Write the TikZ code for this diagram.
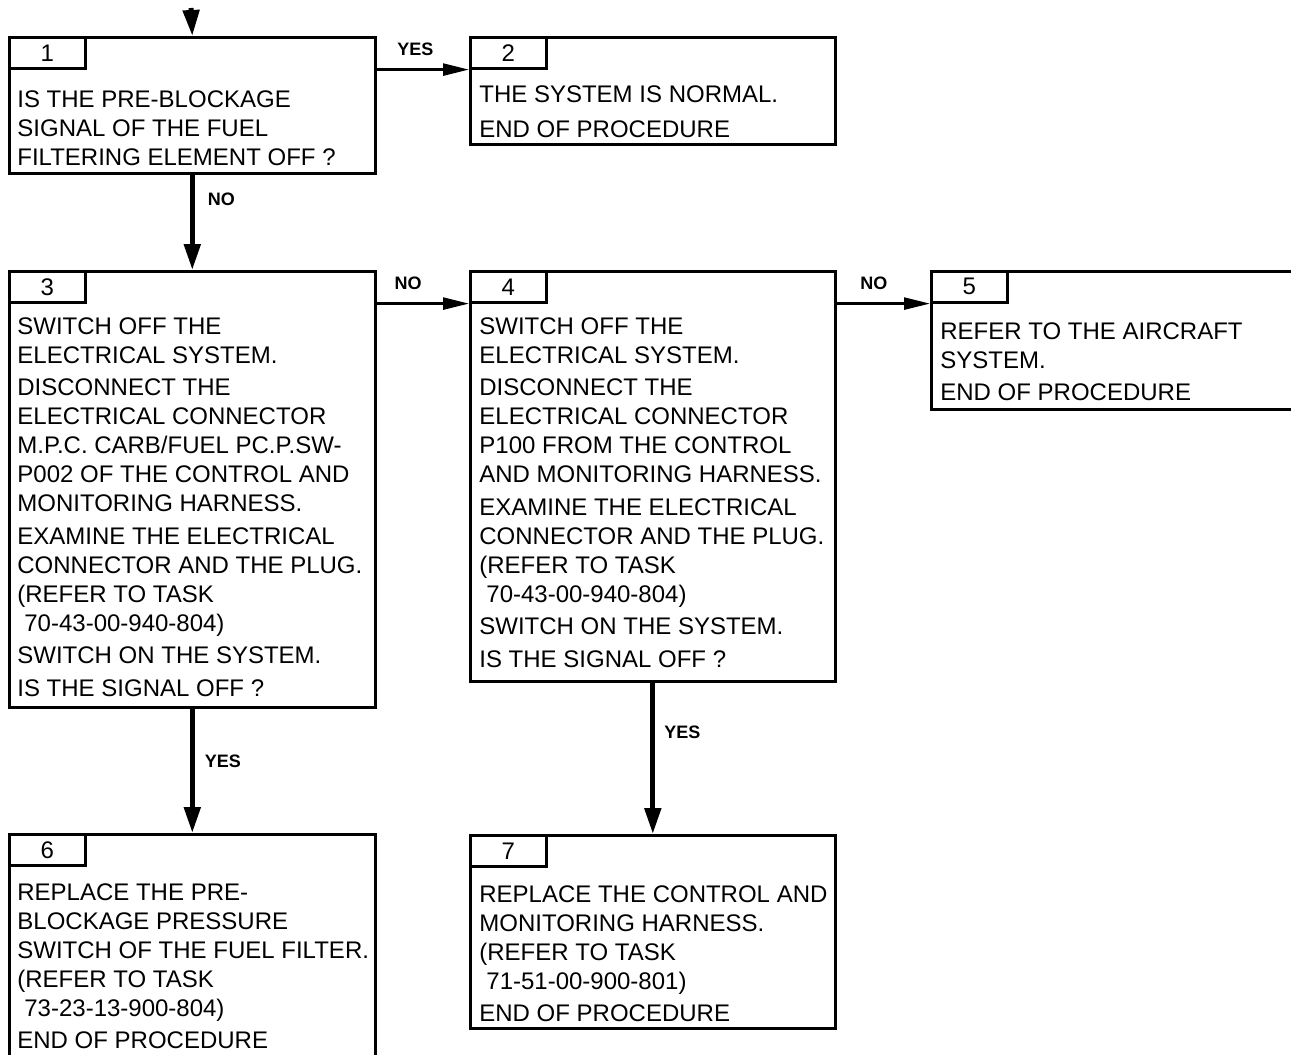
\documentclass[tikz,border=0pt]{standalone}
\usepackage{fontspec}
\setmainfont{Liberation Sans}
\usetikzlibrary{arrows.meta,positioning}

\begin{document}
\begin{tikzpicture}[x=0.5pt,y=-0.5pt]
	\tikzset{
		stepbox/.style={draw,line width=1.3pt,rectangle,anchor=north west,inner sep=0pt},
		numtab/.style={draw,line width=1.3pt,rectangle,anchor=north west,inner sep=0pt,
			minimum width=38pt,minimum height=15.5pt,font=\fontsize{12pt}{14.5pt}\selectfont},
		steptext/.style={anchor=north west,inner sep=0pt,align=left,font=\fontsize{12pt}{14.5pt}\selectfont},
		lbl/.style={inner sep=0pt,font=\bfseries\fontsize{9pt}{10pt}\selectfont},
		down/.style={line width=2.5pt,-{Triangle[length=13pt,width=8pt]}},
		across/.style={line width=1.3pt,-{Triangle[length=13pt,width=6pt]}}
	}
	\useasboundingbox (0,0) rectangle (1291,1055);
	\clip (0,0) rectangle (1291,1055);

	%% step boxes
	\node[stepbox,minimum width=183pt,minimum height=68pt] (b1) at (8,36) {};
	\node[stepbox,minimum width=182.5pt,minimum height=53.5pt] (b2) at (469,36) {};
	\node[stepbox,minimum width=183pt,minimum height=218pt] (b3) at (8,270) {};
	\node[stepbox,minimum width=182.5pt,minimum height=205pt] (b4) at (469,270) {};
	\node[stepbox,minimum width=200pt,minimum height=69pt] (b5) at (930,270) {};
	\node[stepbox,minimum width=183pt,minimum height=130pt] (b6) at (8,833) {};
	\node[stepbox,minimum width=182.5pt,minimum height=96.5pt] (b7) at (469,834) {};

	%% number tabs
	\node[numtab] (t1) at (b1.north west) {1};
	\node[numtab] (t2) at (b2.north west) {2};
	\node[numtab] (t3) at (b3.north west) {3};
	\node[numtab] (t4) at (b4.north west) {4};
	\node[numtab] (t5) at (b5.north west) {5};
	\node[numtab] (t6) at (b6.north west) {6};
	\node[numtab] (t7) at (b7.north west) {7};

	%% texts
	\node[steptext] (x1) at (17,90) {IS THE PRE-BLOCKAGE\\
		SIGNAL OF THE FUEL\\
		FILTERING ELEMENT OFF ?};
	\node[steptext] (x2) at (479,85) {THE SYSTEM IS NORMAL.\\[3pt]
		END OF PROCEDURE};
	\node[steptext] (x3) at (17,317) {SWITCH OFF THE\\
		ELECTRICAL SYSTEM.\\[1.75pt]
		DISCONNECT THE\\
		ELECTRICAL CONNECTOR\\
		M.P.C. CARB/FUEL PC.P.SW-\\
		P002 OF THE CONTROL AND\\
		MONITORING HARNESS.\\[1.75pt]
		EXAMINE THE ELECTRICAL\\
		CONNECTOR AND THE PLUG.\\
		(REFER TO TASK\\
		\hspace*{3.5pt}70-43-00-940-804)\\[1.75pt]
		SWITCH ON THE SYSTEM.\\[1.75pt]
		IS THE SIGNAL OFF ?};
	\node[steptext] (x4) at (479,317) {SWITCH OFF THE\\
		ELECTRICAL SYSTEM.\\[1.75pt]
		DISCONNECT THE\\
		ELECTRICAL CONNECTOR\\
		P100 FROM THE CONTROL\\
		AND MONITORING HARNESS.\\[1.75pt]
		EXAMINE THE ELECTRICAL\\
		CONNECTOR AND THE PLUG.\\
		(REFER TO TASK\\
		\hspace*{3.5pt}70-43-00-940-804)\\[1.75pt]
		SWITCH ON THE SYSTEM.\\[1.75pt]
		IS THE SIGNAL OFF ?};
	\node[steptext] (x5) at (940,322) {REFER TO THE AIRCRAFT\\
		SYSTEM.\\[1.75pt]
		END OF PROCEDURE};
	\node[steptext] (x6) at (17,883) {REPLACE THE PRE-\\
		BLOCKAGE PRESSURE\\
		SWITCH OF THE FUEL FILTER.\\
		(REFER TO TASK\\
		\hspace*{3.5pt}73-23-13-900-804)\\[1.75pt]
		END OF PROCEDURE};
	\node[steptext] (x7) at (479,885) {REPLACE THE CONTROL AND\\
		MONITORING HARNESS.\\
		(REFER TO TASK\\
		\hspace*{3.5pt}71-51-00-900-801)\\[1.75pt]
		END OF PROCEDURE};

	%% connectors
	\coordinate (in) at (191,8);
	\path[down]
		(in) edge (b1.north)
		(b1) edge node[lbl,pos=0.26,right=6.5pt] {NO} (b3)
		(b3) edge node[lbl,pos=0.425,right=5pt] {YES} (b6)
		(b4) edge node[lbl,pos=0.325,right=4.5pt] {YES} (b7);
	\path[across]
		(b1.east |- t1.south) edge node[lbl,pos=0.42,above=6.5pt] {YES} (t2.south west)
		(b3.east |- t3.south) edge node[lbl,pos=0.34,above=6.5pt] {NO} (t4.south west)
		(b4.east |- t4.south) edge node[lbl,pos=0.4,above=6.5pt] {NO} (t5.south west);
\end{tikzpicture}
\end{document}
